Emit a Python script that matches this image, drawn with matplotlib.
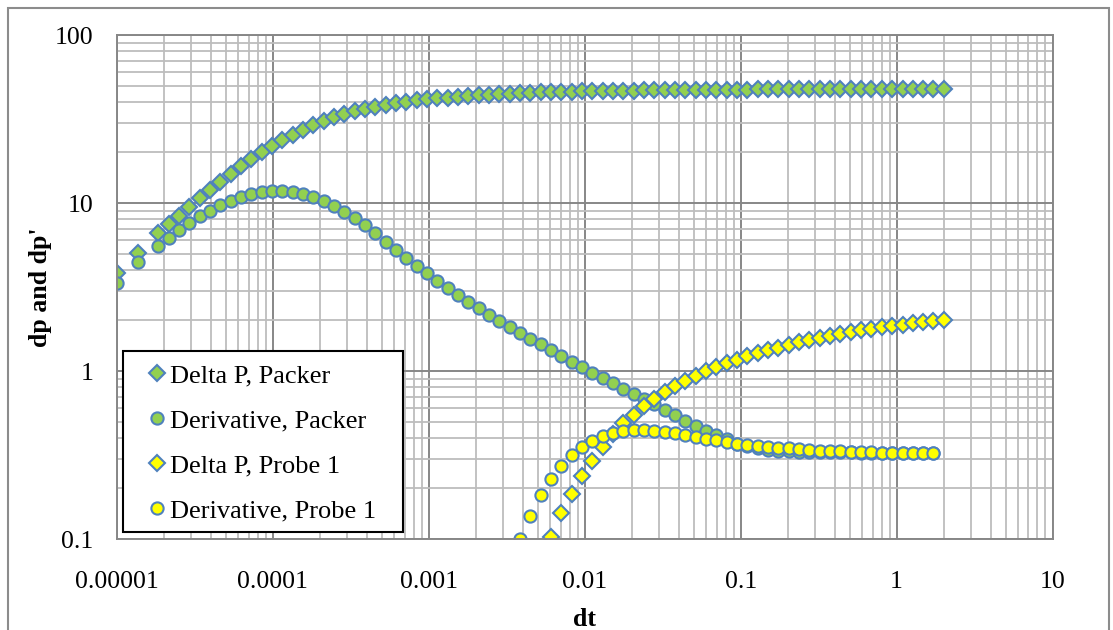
import matplotlib
matplotlib.use("Agg")
import matplotlib.pyplot as plt
from matplotlib.patches import Rectangle
from matplotlib.ticker import FixedLocator, LogLocator, NullFormatter

# Elapsed time grid (hours) for the packer series
dt_packer = [
    1.000e-5, 1.357e-5, 1.842e-5, 2.145e-5, 2.498e-5, 2.910e-5, 3.390e-5, 3.949e-5,
    4.601e-5, 5.360e-5, 6.244e-5, 7.273e-5, 8.472e-5, 9.867e-5, 1.149e-4, 1.339e-4,
    1.560e-4, 1.817e-4, 2.117e-4, 2.466e-4, 2.872e-4, 3.346e-4, 3.897e-4, 4.539e-4,
    5.288e-4, 6.160e-4, 7.175e-4, 8.358e-4, 9.737e-4, 1.134e-3, 1.321e-3, 1.539e-3,
    1.793e-3, 2.088e-3, 2.433e-3, 2.834e-3, 3.301e-3, 3.845e-3, 4.479e-3, 5.218e-3,
    6.078e-3, 7.080e-3, 8.248e-3, 9.607e-3, 1.119e-2, 1.304e-2, 1.519e-2, 1.769e-2,
    2.061e-2, 2.401e-2, 2.796e-2, 3.257e-2, 3.794e-2, 4.420e-2, 5.149e-2, 5.998e-2,
    6.987e-2, 8.139e-2, 9.480e-2, 1.104e-1, 1.286e-1, 1.498e-1, 1.745e-1, 2.033e-1,
    2.368e-1, 2.759e-1, 3.214e-1, 3.743e-1, 4.361e-1, 5.080e-1, 5.917e-1, 6.893e-1,
    8.030e-1, 9.354e-1, 1.090, 1.269, 1.479, 1.722, 2.006,
]

dp_packer = [
    3.82, 5.06, 6.60, 7.46, 8.42, 9.45, 10.7, 11.9,
    13.3, 14.9, 16.6, 18.4, 20.1, 21.9, 23.7, 25.5,
    27.3, 29.1, 30.8, 32.4, 33.9, 35.2, 36.4, 37.5,
    38.4, 39.3, 40.1, 40.8, 41.4, 42.0, 42.4, 42.9,
    43.4, 43.8, 44.2, 44.5, 44.8, 45.1, 45.3, 45.5,
    45.7, 45.9, 46.0, 46.2, 46.3, 46.4, 46.5, 46.6,
    46.7, 46.8, 46.9, 47.0, 47.0, 47.1, 47.1, 47.2,
    47.2, 47.3, 47.3, 47.3, 47.4, 47.4, 47.4, 47.4,
    47.5, 47.5, 47.5, 47.5, 47.5, 47.6, 47.6, 47.6,
    47.6, 47.6, 47.6, 47.7, 47.7, 47.7, 47.7,
]

deriv_packer = [
    3.36, 4.46, 5.57, 6.22, 6.90, 7.64, 8.37, 9.00,
    9.68, 10.3, 10.9, 11.3, 11.6, 11.8, 11.8, 11.6,
    11.3, 10.9, 10.3, 9.60, 8.88, 8.10, 7.37, 6.61,
    5.89, 5.25, 4.72, 4.23, 3.82, 3.45, 3.12, 2.82,
    2.59, 2.37, 2.16, 1.99, 1.83, 1.69, 1.56, 1.44,
    1.34, 1.23, 1.135, 1.06, 0.977, 0.91, 0.845, 0.785,
    0.730, 0.680, 0.634, 0.586, 0.545, 0.506, 0.471, 0.440,
    0.416, 0.392, 0.370, 0.356, 0.346, 0.339, 0.335, 0.332,
    0.331, 0.330, 0.329, 0.329, 0.328, 0.328, 0.327, 0.327,
    0.327, 0.327, 0.327, 0.327, 0.327, 0.327,
]

# Elapsed time grid for the probe series
dt_probe_dp = [
    6.078e-3, 7.080e-3, 8.248e-3, 9.607e-3, 1.119e-2, 1.304e-2, 1.519e-2, 1.769e-2,
    2.061e-2, 2.401e-2, 2.796e-2, 3.257e-2, 3.794e-2, 4.420e-2, 5.149e-2, 5.998e-2,
    6.987e-2, 8.139e-2, 9.480e-2, 1.104e-1, 1.286e-1, 1.498e-1, 1.745e-1, 2.033e-1,
    2.368e-1, 2.759e-1, 3.214e-1, 3.743e-1, 4.361e-1, 5.080e-1, 5.917e-1, 6.893e-1,
    8.030e-1, 9.354e-1, 1.090, 1.269, 1.479, 1.722, 2.006,
]

dp_probe = [
    0.103, 0.142, 0.185, 0.237, 0.291, 0.355, 0.420, 0.492,
    0.547, 0.619, 0.678, 0.750, 0.814, 0.876, 0.934, 1.00,
    1.06, 1.11, 1.17, 1.22, 1.275, 1.325, 1.38, 1.43,
    1.48, 1.53, 1.575, 1.62, 1.665, 1.71, 1.75, 1.79,
    1.83, 1.86, 1.89, 1.925, 1.955, 1.985, 2.01,
]

dt_probe_deriv = [
    3.845e-3, 4.479e-3, 5.218e-3, 6.078e-3, 7.080e-3, 8.248e-3, 9.607e-3, 1.119e-2,
    1.304e-2, 1.519e-2, 1.769e-2, 2.061e-2, 2.401e-2, 2.796e-2, 3.257e-2, 3.794e-2,
    4.420e-2, 5.149e-2, 5.998e-2, 6.987e-2, 8.139e-2, 9.480e-2, 1.104e-1, 1.286e-1,
    1.498e-1, 1.745e-1, 2.033e-1, 2.368e-1, 2.759e-1, 3.214e-1, 3.743e-1, 4.361e-1,
    5.080e-1, 5.917e-1, 6.893e-1, 8.030e-1, 9.354e-1, 1.090, 1.269, 1.479, 1.722,
]

deriv_probe = [
    0.100, 0.138, 0.183, 0.228, 0.273, 0.315, 0.355, 0.383,
    0.410, 0.426, 0.437, 0.443, 0.443, 0.440, 0.432, 0.426,
    0.414, 0.403, 0.395, 0.387, 0.377, 0.370, 0.363, 0.358,
    0.355, 0.350, 0.347, 0.342, 0.339, 0.336, 0.334, 0.332,
    0.330, 0.329, 0.328, 0.327, 0.327, 0.326, 0.326, 0.326, 0.326,
]

series_labels = ["Delta P, Packer", "Derivative, Packer",
                 "Delta P, Probe 1", "Derivative, Probe 1"]
x_ticks = [1e-5, 1e-4, 1e-3, 1e-2, 1e-1, 1, 10]
x_tick_labels = ["0.00001", "0.0001", "0.001", "0.01", "0.1", "1", "10"]
y_ticks = [0.1, 1, 10, 100]
y_tick_labels = ["0.1", "1", "10", "100"]

GREEN = "#92D050"
YELLOW = "#FFFF00"
EDGE = "#4F81BD"
FONT = "Liberation Serif"
FS = 18.6
LEG_FS = 19.0

W, H = 1113, 630
fig = plt.figure(figsize=(W / 100, H / 100), dpi=100)
fig.patches.append(Rectangle((8 / W, -0.05), 1101 / W, 1 - 8 / H + 0.05,
                             transform=fig.transFigure, fill=False,
                             edgecolor="#8C8C8C", linewidth=1.5))

AX_L, AX_R, AX_T, AX_B = 117, 1052.6, 35, 539
ax = fig.add_axes([AX_L / W, 1 - AX_B / H, (AX_R - AX_L) / W, (AX_B - AX_T) / H])
ax.set_xscale("log")
ax.set_yscale("log")
ax.set_xlim(1e-5, 10)
ax.set_ylim(0.1, 100)

dmk = dict(linestyle="none", markeredgecolor=EDGE, markeredgewidth=1.5)
ax.plot(dt_packer, dp_packer, marker="D", markersize=8.0, markerfacecolor=GREEN,
        label=series_labels[0], **dmk)
ax.plot(dt_packer[:len(deriv_packer)], deriv_packer, marker="o", markersize=8.8,
        markerfacecolor=GREEN, label=series_labels[1], **dmk)
ax.plot(dt_probe_dp, dp_probe, marker="D", markersize=8.0, markerfacecolor=YELLOW,
        label=series_labels[2], **dmk)
ax.plot(dt_probe_deriv, deriv_probe, marker="o", markersize=8.8, markerfacecolor=YELLOW,
        label=series_labels[3], **dmk)

ax.xaxis.set_major_locator(FixedLocator(x_ticks))
ax.yaxis.set_major_locator(FixedLocator(y_ticks))
ax.xaxis.set_minor_locator(LogLocator(base=10, subs=range(2, 10), numticks=20))
ax.yaxis.set_minor_locator(LogLocator(base=10, subs=range(2, 10), numticks=20))
ax.xaxis.set_minor_formatter(NullFormatter())
ax.yaxis.set_minor_formatter(NullFormatter())
ax.set_xticklabels(x_tick_labels, fontfamily=FONT, fontsize=FS)
ax.set_yticklabels(y_tick_labels, fontfamily=FONT, fontsize=FS)
ax.tick_params(which="both", length=0)
ax.tick_params(axis="x", pad=23)
ax.tick_params(axis="y", pad=17)

ax.grid(which="major", color="#878787", linewidth=1.4)
ax.grid(which="minor", color="#BDBDBD", linewidth=1.3)
ax.set_axisbelow(True)
for sp in ax.spines.values():
    sp.set_color("#878787")
    sp.set_linewidth(1.4)

ax.set_xlabel("dt", fontfamily=FONT, fontsize=FS, fontweight="bold", labelpad=11)
ax.set_ylabel("dp and dp'", fontfamily=FONT, fontsize=FS, fontweight="bold", labelpad=2)


def ax_frac(px, py):
    """Pixel position on the canvas -> axes fraction."""
    return ((px - AX_L) / (AX_R - AX_L), (AX_B - py) / (AX_B - AX_T))


# legend box drawn as its own rectangle so its size can be set freely
x0, y0 = ax_frac(123, 532)
x1, y1 = ax_frac(403, 351)
ax.add_patch(Rectangle((x0, y0), x1 - x0, y1 - y0, transform=ax.transAxes,
                       facecolor="white", edgecolor="black", linewidth=1.5, zorder=5))

hl = 1.4
hl_px = hl * LEG_FS * 100 / 72
lx, ly = ax_frac(157 - hl_px / 2, 364)
leg = ax.legend(loc="upper left", bbox_to_anchor=(lx, ly), borderaxespad=0,
                borderpad=0, prop={"family": FONT, "size": LEG_FS}, frameon=False,
                handlelength=hl, handletextpad=-0.22, labelspacing=0.81, numpoints=1)
leg.set_zorder(6)

fig.savefig("out.png", dpi=100)
